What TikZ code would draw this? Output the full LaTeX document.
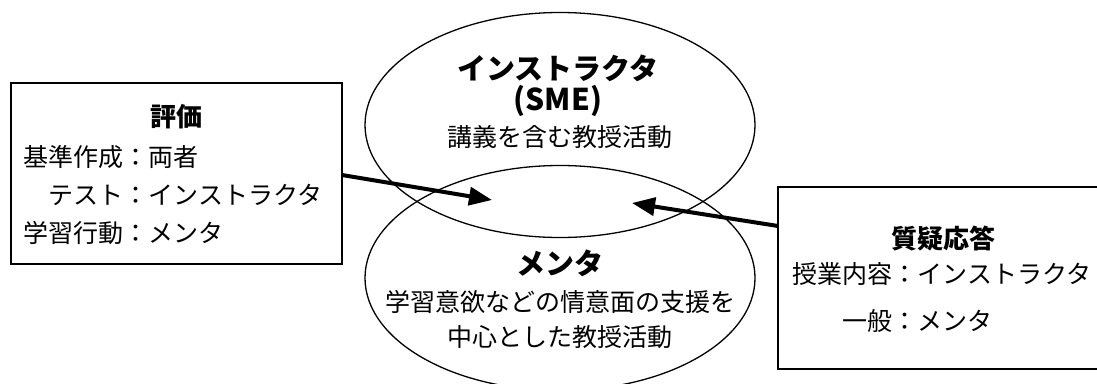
\documentclass[tikz,border=0pt]{standalone}
\usepackage{fontspec}
\setmainfont{Noto Sans CJK JP}
\usetikzlibrary{shapes.geometric,arrows.meta}
\tikzset{
  oval/.style={draw=black, line width=1.3pt, ellipse, minimum width=390pt, minimum height=225pt, inner sep=0pt},
  infobox/.style={draw=black, line width=1.5pt, rectangle, inner sep=0pt},
  title/.style={font=\fontsize{29}{34}\selectfont\bfseries, inner sep=0pt},
  boxtitle/.style={font=\fontsize{26}{30}\selectfont\bfseries, inner sep=0pt},
  body/.style={font=\fontsize{25}{30}\selectfont, inner sep=0pt},
  bigarrow/.style={line width=4pt, -{Triangle[length=23pt, width=18pt]}}
}
\begin{document}
\begin{tikzpicture}[x=1pt, y=-1pt]
\useasboundingbox (0,0) rectangle (1097,383);
% ellipses
\node[oval] (inst) at (560,125) {};
\node[oval] (ment) at (560,278) {};
% boxes
\node[infobox, minimum width=331pt, minimum height=181pt] (eval) at (176.5,173.5) {};
\node[infobox, minimum width=330pt, minimum height=182pt] (qa) at (943,278) {};
% ellipse texts
\node[title] (instT) at (558,68) {インストラクタ};
\node[title, font=\fontsize{30}{34}\selectfont\bfseries] (sme) at (558,101) {(SME)};
\node[body] (instB) at (560,137) {講義を含む教授活動};
\node[title] (mentT) at (560,263) {メンタ};
\node[body] (mentB1) at (560,302) {学習意欲などの情意面の支援を};
\node[body] (mentB2) at (560,337) {中心とした教授活動};
% box texts
\node[boxtitle] (evalT) at (176,117) {評価};
\node[inner sep=0pt, font=\fontsize{25}{38}\selectfont] (evalB) at (173,197)
  {\begin{tabular}{@{}r@{}l@{}}基準作成：&両者\\テスト：&インストラクタ\\学習行動：&メンタ\end{tabular}};
\node[boxtitle] (qaT) at (943,239) {質疑応答};
\node[inner sep=0pt, font=\fontsize{25}{47}\selectfont] (qaB) at (942,298)
  {\begin{tabular}{@{}r@{}l@{}}授業内容：&インストラクタ\\一般：&メンタ\end{tabular}};
% arrows
\coordinate (a1s) at (342,175);
\coordinate (a1e) at (492,200);
\coordinate (a2s) at (778,226);
\coordinate (a2e) at (632,203);
\draw[bigarrow] (a1s) -- (a1e);
\draw[bigarrow] (a2s) -- (a2e);
\end{tikzpicture}
\end{document}
